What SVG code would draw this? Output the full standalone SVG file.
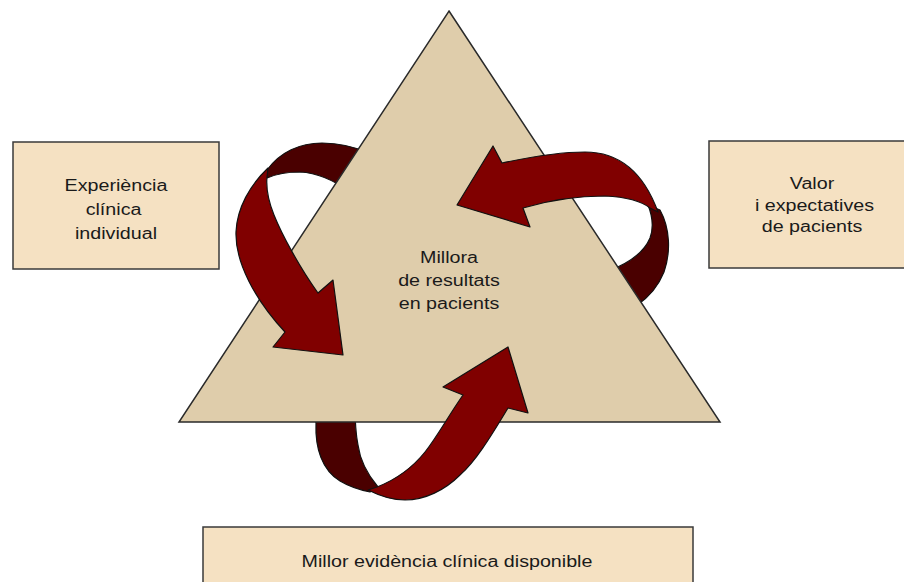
<svg xmlns="http://www.w3.org/2000/svg" width="904" height="582" viewBox="0 0 904 582">
<style>
.box{fill:#F5E1C2;stroke:#3a3a3a;stroke-width:1.5}
.tri{fill:#DFCDAB;stroke:#2a2a2a;stroke-width:1.5;stroke-linejoin:miter}
.front{fill:#800000;stroke:#111;stroke-width:1.2;stroke-linejoin:round}
.back{fill:#4A0000;stroke:#111;stroke-width:1.2;stroke-linejoin:round}
text{font-family:"Liberation Sans",Arial,sans-serif;font-size:16px;fill:#1a1a1a;text-anchor:middle}
</style>
<rect x="0" y="0" width="904" height="582" fill="#ffffff"/>
<g id="connectors-back">
<path class="back" d="M267,170 C280,152 300,143 322,143 C342,143 358,148 372,154 L350,192 C335,181 318,173 300,172 C285,172 274,175 267,178 Z"/>
<path class="back" d="M648,205 L660,210 C670,228 671,252 664,272 C658,287 648,298 636,306 L606,272 C625,265 643,255 650,238 C654,227 652,215 648,205 Z"/>
<path class="back" d="M312,405 L316,423 C315,448 322,470 340,481 C350,487 360,490 370,492 L378,487 C368,475 360,460 358,445 C356,435 355,425 355,405 Z"/>
</g>
<g id="triangle">
<polygon class="tri" points="449,11 720,422 179,422"/>
</g>
<g id="connectors">
<path class="front" d="M268,168 C250,185 237,208 236,232 C235,262 255,300 285,332 L273,347 L343,355 L333,280 L318,293 C300,268 282,235 274,215 C268,200 266,188 267,177 Z"/>
<path class="front" d="M457,205 L493,146 L502,163 C530,157 560,152 585,152 C615,152 642,168 658,212 L650,208 C640,200 625,197 605,196 C580,196 550,200 523,208 L530,227 Z"/>
<path class="front" d="M508,347 L528,413 L508,408 C490,438 475,462 460,475 C445,490 425,500 405,500 C390,500 378,495 368,490 L377,487 C395,480 413,467 425,452 C437,437 447,418 463,395 L443,387 Z"/>
</g>
<g id="center-node">
<g transform="translate(449 0) scale(1.23 1)">
<text x="0" y="263">Millora</text>
<text x="0" y="286">de resultats</text>
<text x="0" y="309">en pacients</text>
</g>
</g>
<g id="node-experiencia">
<rect class="box" x="13" y="142" width="206" height="127"/>
<g transform="translate(116 0) scale(1.23 1)">
<text x="0" y="191">Experiència</text>
<text x="-2" y="215">clínica</text>
<text x="0" y="239">individual</text>
</g>
</g>
<g id="node-valor">
<rect class="box" x="709" y="141" width="200" height="127"/>
<g transform="translate(812 0) scale(1.23 1)">
<text x="0" y="189">Valor</text>
<text x="2" y="211">i expectatives</text>
<text x="0" y="232">de pacients</text>
</g>
</g>
<g id="node-evidencia">
<rect class="box" x="203" y="527" width="490" height="62"/>
<g transform="translate(447 0) scale(1.23 1)">
<text x="0" y="567">Millor evidència clínica disponible</text>
</g>
</g>
</svg>
